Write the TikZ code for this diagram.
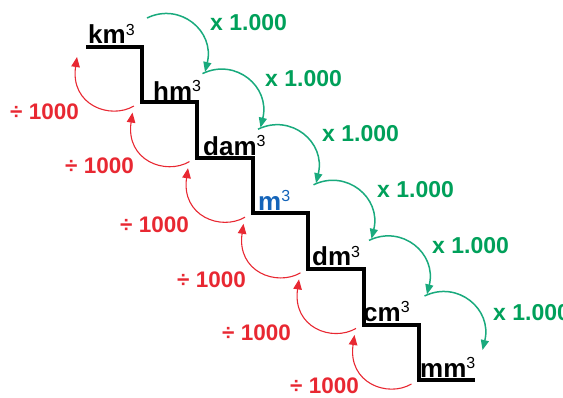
\documentclass[tikz,border=0pt]{standalone}
\usepackage{fontspec}
\setmainfont{Liberation Sans}
\usetikzlibrary{arrows.meta,calc}
\definecolor{gtext}{RGB}{0,160,90}
\definecolor{garrow}{RGB}{25,170,125}
\definecolor{rtext}{RGB}{232,40,50}
\definecolor{ublue}{RGB}{20,100,185}
\newcommand{\unitlab}[1]{\fontsize{26}{26}\selectfont\bfseries #1\raisebox{8.5pt}{\fontsize{16}{16}\selectfont\mdseries 3}}
\tikzset{
  stair/.style={line width=4pt, line join=miter, line cap=butt, black},
  unitnode/.style={anchor=base west, inner sep=0pt},
  mullab/.style={anchor=west, inner sep=0pt, text=gtext, font=\fontsize{23}{23}\selectfont\bfseries},
  divlab/.style={anchor=west, inner sep=0pt, text=rtext, font=\fontsize{22.5}{22.5}\selectfont\bfseries},
  mularc/.style={garrow, line width=1.5pt, -{Triangle[length=10pt,width=8pt]}},
  divarc/.style={rtext, line width=1.1pt, -{Triangle[length=10pt,width=8.5pt]}},
}
\begin{document}
\begin{tikzpicture}[x=1pt,y=-1pt]
\useasboundingbox (0,0) rectangle (563,397);
% staircase
\draw[stair] (86,46.5) -- (141.5,46.5) -- (141.5,102.1) -- (197,102.1) -- (197,157.7)
  -- (252.5,157.7) -- (252.5,213.3) -- (308,213.3) -- (308,268.9) -- (363.5,268.9)
  -- (363.5,324.5) -- (419,324.5) -- (419,380.1) -- (474.5,380.1);
% unit labels
\node[unitnode] (km) at (88,43.5) {\unitlab{km}};
\node[unitnode] (hm) at (153,100) {\unitlab{hm}};
\node[unitnode] (dam) at (203,155) {\unitlab{dam}};
\node[unitnode, text=ublue] (m) at (258,210) {\unitlab{m}};
\node[unitnode] (dm) at (312,265.5) {\unitlab{dm}};
\node[unitnode] (cm) at (363,321) {\unitlab{cm}};
\node[unitnode] (mm) at (420,377) {\unitlab{mm}};
% multiply labels
\node[mullab] (x1) at (210,23) {x 1.000};
\node[mullab] (x2) at (265,79) {x 1.000};
\node[mullab] (x3) at (322,134) {x 1.000};
\node[mullab] (x4) at (377,190) {x 1.000};
\node[mullab] (x5) at (432,246) {x 1.000};
\node[mullab] (x6) at (493,313) {x 1.000};
% divide labels
\node[divlab] (d1) at (10,112) {÷ 1000};
\node[divlab] (d2) at (65,166) {÷ 1000};
\node[divlab] (d3) at (120,225) {÷ 1000};
\node[divlab] (d4) at (177,280) {÷ 1000};
\node[divlab] (d5) at (222,333) {÷ 1000};
\node[divlab] (d6) at (290,386) {÷ 1000};
% arcs
\foreach \k in {0,...,5}{
  \pgfmathsetmacro{\dx}{55.5*\k}
  \pgfmathsetmacro{\dy}{55.6*\k}
  \coordinate (gs\k) at (147+\dx,18+\dy);
  \coordinate (ge\k) at (205+\dx,72+\dy);
  \coordinate (rs\k) at (134+\dx,106+\dy);
  \coordinate (re\k) at (77+\dx,57+\dy);
  \draw[mularc] (gs\k) .. controls ($(gs\k)+(33,-16)$) and ($(ge\k)+(10,-41)$) .. (ge\k);
  \draw[divarc] (rs\k) .. controls ($(rs\k)+(-24,14)$) and ($(re\k)+(-7,48)$) .. (re\k);
}
\end{tikzpicture}
\end{document}
